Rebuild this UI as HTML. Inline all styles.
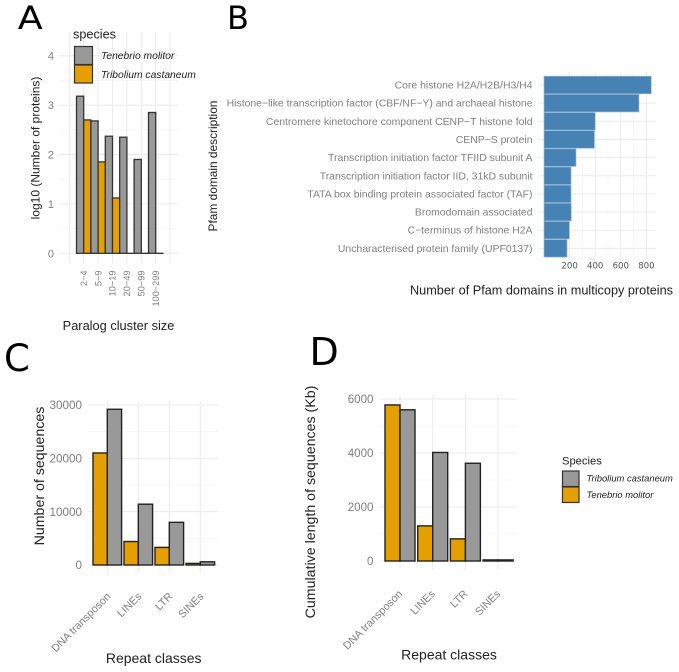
<!DOCTYPE html>
<html>
<head>
<meta charset="utf-8">
<title>Paralog, Pfam and repeat class charts</title>
<style>
html,body{margin:0;padding:0;background:#fff;width:679px;height:672px;overflow:hidden}
svg{display:block}
text{font-family:"Liberation Sans",sans-serif}
.tick{fill:#808080;font-size:10px}
.title{fill:#222;font-size:12.5px}
.letter{fill:#000;font-family:"DejaVu Sans",sans-serif}
</style>
</head>
<body>
<svg id="figure" xmlns="http://www.w3.org/2000/svg" width="679" height="672" viewBox="0 0 679 672">
<defs><filter id="soft" x="0" y="0" width="100%" height="100%"><feGaussianBlur stdDeviation="0.35"/></filter></defs>
<g id="root" filter="url(#soft)"></g>
</svg>
<script>
var GREY = '#999999';
var ORANGE = '#E69F00';

var paralogSizes = ['2\u22124', '5\u22129', '10\u221219', '20\u221249', '50\u221299', '100\u2212299'];
var tenebrioLog = [3.18, 2.68, 2.37, 2.35, 1.9, 2.85];
var triboliumLog = [2.7, 1.85, 1.12, 0, 0, 0];
var paralogTicks = [0, 1, 2, 3, 4];

var pfamDomains = ['Core histone H2A/H2B/H3/H4', 'Histone\u2212like transcription factor (CBF/NF\u2212Y) and archaeal histone', 'Centromere kinetochore component CENP\u2212T histone fold', 'CENP\u2212S protein', 'Transcription initiation factor TFIID subunit A', 'Transcription initiation factor IID, 31kD subunit', 'TATA box binding protein associated factor (TAF)', 'Bromodomain associated', 'C\u2212terminus of histone H2A', 'Uncharacterised protein family (UPF0137)'];
var pfamCounts = [838, 742, 400, 394, 250, 211, 211, 213, 198, 180];
var pfamTicks = [200, 400, 600, 800];

var repeatClasses = ['DNA transposon', 'LINEs', 'LTR', 'SINEs'];
var seqTenebrio = [21000, 4400, 3300, 300];
var seqTribolium = [29200, 11400, 8000, 600];
var seqTicks = [0, 10000, 20000, 30000];
var lenTenebrio = [5780, 1300, 820, 40];
var lenTribolium = [5600, 4020, 3620, 40];
var lenTicks = [0, 2000, 4000, 6000];

var root = document.getElementById('root');
function mk(tag, attrs, txt) {
  var e = document.createElementNS('http://www.w3.org/2000/svg', tag);
  for (var k in attrs) e.setAttribute(k, attrs[k]);
  if (txt !== undefined) e.textContent = txt;
  root.appendChild(e);
  return e;
}
function gridLine(x1, y1, x2, y2, major) {
  var l = mk('line', {x1: x1, y1: y1, x2: x2, y2: y2, stroke: major ? '#ebebeb' : '#f3f3f3', 'stroke-width': major ? 1 : 0.6});
  
  
}
function bar(x, y, w, h, fill, stroke, sw, name) {
  var r = mk('rect', {x: x, y: y, width: w, height: Math.max(h, 0.05), fill: fill, stroke: stroke, 'stroke-width': sw});
  
  
}
function label(x, y, str, cls, extra, name) {
  var a = {x: x, y: y, 'class': cls};
  for (var k in extra) a[k] = extra[k];
  var t = mk('text', a, str);
  
  
}

/* Panel A */
function ax(i) { return 83.7 + i * 14.4; }
function ay(v) { return 253.3 - v * 49.4; }
paralogTicks.forEach(function (v) {
  gridLine(59, ay(v), 178, ay(v), true);
  if (v < 4) gridLine(59, ay(v + 0.5), 178, ay(v + 0.5), false);
  label(54, ay(v) + 4, String(v), 'tick', {'text-anchor': 'end', style: 'font-size:11px'}, 'a-y-tick-label');
});
for (var gi = -1; gi <= 6; gi++) gridLine(ax(gi), 32, ax(gi), 263, true);
paralogSizes.forEach(function (s, i) {
  bar(ax(i) - 7.2, ay(tenebrioLog[i]), 7.2, ay(0) - ay(tenebrioLog[i]), GREY, '#333', 1.3, 'a-bar-tenebrio');
  bar(ax(i), ay(triboliumLog[i]), 7.2, ay(0) - ay(triboliumLog[i]), ORANGE, '#333', 1.3, 'a-bar-tribolium');
  label(0, 0, s, 'tick', {'text-anchor': 'end', transform: 'translate(' + (ax(i) + 3.2) + ',270.5) rotate(-90)', style: 'font-size:9.2px'}, 'a-x-tick-label');
});
label(0, 0, 'log10 (Number of proteins)', 'title', {'text-anchor': 'middle', transform: 'translate(39.5,148) rotate(-90)', style: 'font-size:12px'}, 'a-y-axis-title');
label(118.5, 330, 'Paralog cluster size', 'title', {'text-anchor': 'middle', style: 'font-size:12.8px'}, 'a-x-axis-title');
label(73, 38.7, 'species', 'title', {style: 'font-size:12.7px'}, 'a-legend-title');
bar(74.5, 46.5, 18, 18, GREY, '#333', 1.2, 'a-legend-key-tenebrio');
bar(74.5, 65, 18, 18, ORANGE, '#333', 1.2, 'a-legend-key-tribolium');
label(101, 59.2, 'Tenebrio molitor', 'title', {'font-style': 'italic', style: 'font-size:10.3px'}, 'a-legend-label-tenebrio');
label(101, 77.8, 'Tribolium castaneum', 'title', {'font-style': 'italic', style: 'font-size:10.3px'}, 'a-legend-label-tribolium');

/* Panel B */
function bx(v) { return 544 + v * 0.128; }
function by(i) { return 85 + i * 18.15; }
pfamTicks.forEach(function (v) {
  gridLine(bx(v), 72, bx(v), 260, true);
  gridLine(bx(v - 100), 72, bx(v - 100), 260, false);
  label(bx(v), 268.5, String(v), 'tick', {'text-anchor': 'middle', style: 'font-family:\'DejaVu Sans\',sans-serif;font-size:8.6px;fill:#555'}, 'b-x-tick-label');
});
pfamDomains.forEach(function (d, i) {
  gridLine(538, by(i), 656, by(i), true);
  bar(bx(0), by(i) - 8.8, bx(pfamCounts[i]) - bx(0), 17.6, '#4682B4', '#9dbbd6', 0.7, 'b-bar');
  label(532.5, by(i) + 3.5, d, 'tick', {'text-anchor': 'end', style: 'font-size:10.43px'}, 'b-y-tick-label');
});
label(0, 0, 'Pfam domain description', 'title', {'text-anchor': 'middle', transform: 'translate(217,166) rotate(-90)', style: 'font-size:11.9px'}, 'b-y-axis-title');
label(541.5, 294.5, 'Number of Pfam domains in multicopy proteins', 'title', {'text-anchor': 'middle', style: 'font-size:12.7px'}, 'b-x-axis-title');

/* Panels C and D */
function repeatPanel(p, x0, step, half, yZero, pxPerUnit, ticks, left, right, top, bottom, orange, grey, tickRight, labelY, labelDx, tickSize) {
  function px(i) { return x0 + i * step; }
  function py(v) { return yZero - v * pxPerUnit; }
  var minor = (ticks[1] - ticks[0]) / 2;
  ticks.forEach(function (v, k) {
    gridLine(left, py(v), right, py(v), true);
    if (k < ticks.length - 1) gridLine(left, py(v + minor), right, py(v + minor), false);
    label(tickRight, py(v) + 4.2, String(v), 'tick', {'text-anchor': 'end', style: 'font-size:' + tickSize + 'px'}, p + '-y-tick-label');
  });
  repeatClasses.forEach(function (c, i) {
    gridLine(px(i), top, px(i), bottom, true);
    bar(px(i) - half, py(orange[i]), half, yZero - py(orange[i]), ORANGE, '#222', 1.4, p + '-bar-tenebrio');
    bar(px(i), py(grey[i]), half, yZero - py(grey[i]), GREY, '#222', 1.4, p + '-bar-tribolium');
    label(0, 0, c, 'tick', {'text-anchor': 'end', transform: 'translate(' + (px(i) + labelDx) + ',' + labelY + ') rotate(-45)', style: 'font-size:10.8px'}, p + '-x-tick-label');
  });
}
repeatPanel('c', 107.3, 31, 14.3, 565, 160 / 30000, seqTicks, 88, 218, 402, 573, seqTenebrio, seqTribolium, 82, 597, 4, 11.7);
repeatPanel('d', 400, 32.7, 15, 561, 162 / 6000, lenTicks, 380, 517, 395, 569, lenTenebrio, lenTribolium, 373.5, 594.5, 3, 11.6);

label(0, 0, 'Number of sequences', 'title', {'text-anchor': 'middle', transform: 'translate(44,476) rotate(-90)', style: 'font-size:14.2px'}, 'c-y-axis-title');
label(153.7, 663, 'Repeat classes', 'title', {'text-anchor': 'middle', style: 'font-size:14px'}, 'c-x-axis-title');
label(0, 0, 'Cumulative length of sequences (Kb)', 'title', {'text-anchor': 'middle', transform: 'translate(315,502) rotate(-90)', style: 'font-size:14.2px'}, 'd-y-axis-title');
label(449, 659.5, 'Repeat classes', 'title', {'text-anchor': 'middle', style: 'font-size:14px'}, 'd-x-axis-title');

label(562, 464.5, 'Species', 'title', {style: 'font-size:11.2px'}, 'd-legend-title');
bar(562.5, 471, 16.5, 15.5, GREY, '#333', 1.2, 'd-legend-key-tribolium');
bar(562.5, 487, 16.5, 15.5, ORANGE, '#333', 1.2, 'd-legend-key-tenebrio');
label(586.5, 481.5, 'Tribolium castaneum', 'title', {'font-style': 'italic', style: 'font-size:9.4px'}, 'd-legend-label-tribolium');
label(586.5, 498, 'Tenebrio molitor', 'title', {'font-style': 'italic', style: 'font-size:9.4px'}, 'd-legend-label-tenebrio');

/* Panel letters */
label(0, 0, 'A', 'letter', {transform: 'translate(17.8,29) scale(1.14,1)', style: 'font-size:32px'}, 'panel-letter-a');
label(227, 29, 'B', 'letter', {style: 'font-size:32px'}, 'panel-letter-b');
label(4, 371, 'C', 'letter', {style: 'font-size:37px'}, 'panel-letter-c');
label(309.5, 365, 'D', 'letter', {style: 'font-size:38px'}, 'panel-letter-d');
</script>
</body>
</html>
